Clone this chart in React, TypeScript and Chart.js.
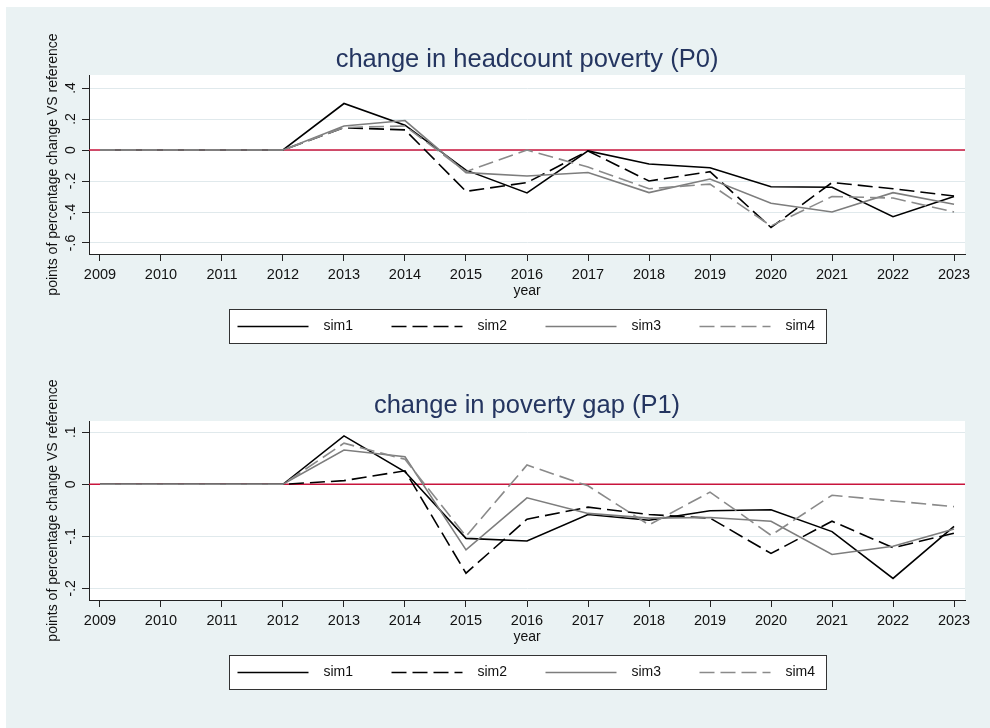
import React, { useEffect, useRef } from 'react';
import { Chart, registerables } from 'chart.js';

Chart.register(...registerables);

// ---- data ----
const years = [2009, 2010, 2011, 2012, 2013, 2014, 2015, 2016, 2017, 2018, 2019, 2020, 2021, 2022, 2023];
const seriesNames = ['sim1', 'sim2', 'sim3', 'sim4'];

// change in headcount poverty (P0)
const p0Sim1 = [0, 0, 0, 0, 0.30, 0.16, -0.13, -0.277, -0.006, -0.09, -0.114, -0.237, -0.24, -0.43, -0.30];
const p0Sim2 = [0, 0, 0, 0, 0.144, 0.13, -0.267, -0.21, -0.006, -0.20, -0.14, -0.50, -0.21, -0.25, -0.297];
const p0Sim3 = [0, 0, 0, 0, 0.155, 0.19, -0.146, -0.168, -0.145, -0.275, -0.187, -0.344, -0.40, -0.275, -0.35];
const p0Sim4 = [0, 0, 0, 0, 0.145, 0.155, -0.14, 0.0, -0.11, -0.25, -0.22, -0.49, -0.30, -0.31, -0.40];
const p0Ticks = [-0.6, -0.4, -0.2, 0, 0.2, 0.4];

// change in poverty gap (P1)
const p1Sim1 = [0, 0, 0, 0, 0.093, 0.024, -0.104, -0.109, -0.058, -0.069, -0.051, -0.049, -0.091, -0.181, -0.081];
const p1Sim2 = [0, 0, 0, 0, 0.007, 0.026, -0.171, -0.067, -0.044, -0.058, -0.065, -0.133, -0.071, -0.122, -0.094];
const p1Sim3 = [0, 0, 0, 0, 0.066, 0.053, -0.126, -0.026, -0.056, -0.065, -0.064, -0.071, -0.135, -0.119, -0.086];
const p1Sim4 = [0, 0, 0, 0, 0.079, 0.048, -0.10, 0.037, -0.003, -0.078, -0.015, -0.098, -0.021, -0.032, -0.043];
const p1Ticks = [-0.2, -0.1, 0, 0.1];

const yTitle = 'points of percentage change VS reference';
const xTitle = 'year';

// ---- styling ----
const FONT = '"Liberation Sans", Arial, Helvetica, sans-serif';
const TEXT = '#111111';
const TITLE_COLOR = '#243560';
const AXIS = '#222222';
const GRID = '#e0e9ec';
const ZERO_LINE = '#c8143c';
const PANEL_BG = '#eaf2f3';

const lineStyles = [
  { color: '#000000', dash: [] as number[] },
  { color: '#000000', dash: [15, 6] },
  { color: '#7d7d7d', dash: [] as number[] },
  { color: '#8a8a8a', dash: [15, 6] },
];

const fmtTick = (v: number) => (v === 0 ? '0' : String(v).replace('0.', '.'));

// plot region fill, zero reference line, panel title, rotated y tick labels and legend box
const panelDecor = {
  id: 'panelDecor',
  beforeDraw(chart: any) {
    const { ctx, chartArea: a } = chart;
    ctx.save();
    ctx.fillStyle = '#ffffff';
    ctx.fillRect(a.left, a.top, a.right - a.left, a.bottom - a.top);
    ctx.restore();
  },
  beforeDatasetsDraw(chart: any) {
    const { ctx, chartArea: a, scales } = chart;
    const y = scales.y.getPixelForValue(0);
    ctx.save();
    ctx.strokeStyle = ZERO_LINE;
    ctx.lineWidth = 1.6;
    ctx.beginPath();
    ctx.moveTo(a.left, y);
    ctx.lineTo(a.right, y);
    ctx.stroke();
    ctx.restore();
  },
  afterDraw(chart: any, _args: any, opts: any) {
    const { ctx, chartArea: a, scales } = chart;
    const cx = (a.left + a.right) / 2;
    ctx.save();

    // panel title
    ctx.font = `25.5px ${FONT}`;
    ctx.fillStyle = TITLE_COLOR;
    ctx.textAlign = 'center';
    ctx.textBaseline = 'middle';
    ctx.fillText(opts.title, cx, a.top - 15);

    // y tick labels, written bottom-to-top
    ctx.font = `14px ${FONT}`;
    ctx.fillStyle = TEXT;
    const ys = scales.y;
    ys.ticks.forEach((t: any) => {
      const py = ys.getPixelForValue(t.value);
      ctx.save();
      ctx.translate(ys.right - 18, py);
      ctx.rotate(-Math.PI / 2);
      ctx.fillText(fmtTick(t.value), 0, 0);
      ctx.restore();
    });

    // legend
    const xs = scales.x;
    const boxW = 597;
    const boxTop = xs.bottom + 9;
    const boxH = 34;
    const boxLeft = Math.round(cx - boxW / 2) + 0.5;
    ctx.fillStyle = '#ffffff';
    ctx.fillRect(boxLeft, boxTop + 0.5, boxW, boxH);
    ctx.strokeStyle = '#333333';
    ctx.lineWidth = 1;
    ctx.strokeRect(boxLeft, boxTop + 0.5, boxW, boxH);
    const midY = boxTop + boxH / 2 + 0.5;
    chart.data.datasets.forEach((ds: any, i: number) => {
      const x0 = boxLeft + 8 + i * 154;
      ctx.save();
      ctx.strokeStyle = ds.borderColor;
      ctx.lineWidth = ds.borderWidth;
      ctx.setLineDash(ds.borderDash || []);
      ctx.beginPath();
      ctx.moveTo(x0, midY);
      ctx.lineTo(x0 + 71, midY);
      ctx.stroke();
      ctx.restore();
      ctx.fillStyle = TEXT;
      ctx.textAlign = 'left';
      ctx.textBaseline = 'middle';
      ctx.font = `14px ${FONT}`;
      ctx.fillText(ds.label, x0 + 86, midY);
    });
    ctx.restore();
  },
};

type PanelProps = {
  title: string;
  series: number[][];
  ticks: number[];
  yMin: number;
  yMax: number;
  top: number;
  height: number;
  plotTop: number;
  plotBottom: number;
};

function Panel({ title, series, ticks, yMin, yMax, top, height, plotTop, plotBottom }: PanelProps) {
  const ref = useRef<HTMLCanvasElement>(null);

  useEffect(() => {
    const canvas = ref.current;
    if (!canvas) return;
    const xAxisHeight = 46;
    const chart = new Chart(canvas, {
      type: 'line',
      data: {
        datasets: series.map((vals, i) => ({
          label: seriesNames[i],
          data: years.map((x, j) => ({ x, y: vals[j] })),
          borderColor: lineStyles[i].color,
          borderDash: lineStyles[i].dash,
          borderWidth: 1.6,
          pointRadius: 0,
          tension: 0,
          fill: false,
          order: 4 - i,
        })),
      },
      options: {
        animation: false,
        responsive: false,
        devicePixelRatio: 1,
        layout: {
          padding: { left: 30, right: 25, top: plotTop, bottom: height - plotBottom - xAxisHeight },
        },
        plugins: {
          legend: { display: false },
          tooltip: { enabled: false },
          title: { display: false },
          panelDecor: { title },
        } as any,
        scales: {
          x: {
            type: 'linear',
            min: 2008.82,
            max: 2023.18,
            afterBuildTicks: (s: any) => {
              s.ticks = years.map((v) => ({ value: v }));
            },
            afterFit: (s: any) => {
              s.height = xAxisHeight;
            },
            ticks: {
              autoSkip: false,
              maxRotation: 0,
              minRotation: 0,
              padding: 5,
              color: TEXT,
              font: { family: FONT, size: 14.5 },
              callback: (v: any) => String(v),
            },
            grid: { drawOnChartArea: false, drawTicks: true, tickLength: 7, tickColor: AXIS },
            border: { color: AXIS, width: 1 },
            title: {
              display: true,
              text: xTitle,
              color: TEXT,
              font: { family: FONT, size: 14 },
              padding: { top: 0, bottom: 0 },
            },
          },
          y: {
            type: 'linear',
            min: yMin,
            max: yMax,
            afterBuildTicks: (s: any) => {
              s.ticks = ticks.map((v) => ({ value: v }));
            },
            afterFit: (s: any) => {
              s.width = 53;
            },
            ticks: { display: false },
            grid: { color: GRID, lineWidth: 1, drawTicks: true, tickLength: 7, tickColor: AXIS },
            border: { color: AXIS, width: 1 },
            title: {
              display: true,
              text: yTitle,
              color: TEXT,
              font: { family: FONT, size: 14 },
              padding: { top: 8.6, bottom: 0 },
            },
          },
        },
      } as any,
      plugins: [panelDecor as any],
    });
    return () => chart.destroy();
  }, [title, series, ticks, yMin, yMax, height, plotTop, plotBottom]);

  return (
    <canvas
      ref={ref}
      width={984}
      height={height}
      style={{ position: 'absolute', left: 0, top, width: 984, height }}
    />
  );
}

const p0Series = [p0Sim1, p0Sim2, p0Sim3, p0Sim4];
const p1Series = [p1Sim1, p1Sim2, p1Sim3, p1Sim4];

export default function App() {
  return (
    <div
      style={{
        position: 'absolute',
        left: 6,
        top: 7,
        width: 984,
        height: 721,
        background: PANEL_BG,
        overflow: 'hidden',
      }}
    >
      <Panel
        title="change in headcount poverty (P0)"
        series={p0Series}
        ticks={p0Ticks}
        yMin={-0.671}
        yMax={0.484}
        top={0}
        height={345}
        plotTop={68}
        plotBottom={247}
      />
      <Panel
        title="change in poverty gap (P1)"
        series={p1Series}
        ticks={p1Ticks}
        yMin={-0.2225}
        yMax={0.1217}
        top={345}
        height={376}
        plotTop={69}
        plotBottom={248}
      />
    </div>
  );
}
